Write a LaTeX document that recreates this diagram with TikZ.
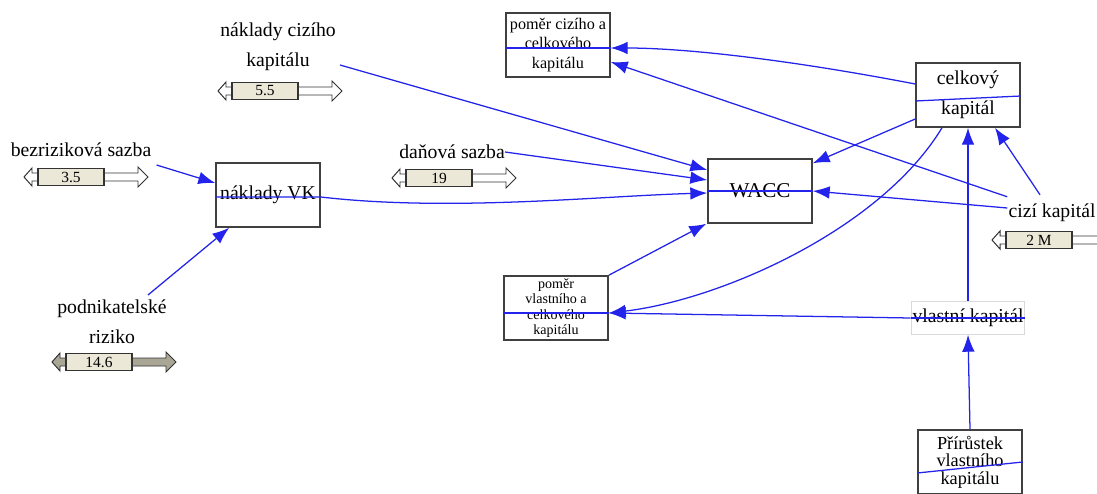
\documentclass[tikz,border=0pt]{standalone}
\usepackage{fontspec}
\setmainfont{Liberation Serif}
\usetikzlibrary{arrows.meta}

\definecolor{linkblue}{RGB}{35,35,235}
\definecolor{sliderfill}{RGB}{236,232,216}
\definecolor{knobgray}{RGB}{170,166,150}

\tikzset{
	box/.style = {draw = black!75, line width = 1.1pt, fill = white, minimum width = 2.6cm,
		minimum height = 1.6cm, align = center, inner sep = 1pt, font = \fontsize{14pt}{16pt}\selectfont},
	label/.style = {align = center, inner sep = 0pt, font = \fontsize{14pt}{21pt}\selectfont},
	conn/.style = {linkblue, line width = 0.9pt, ->},
	thru/.style = {linkblue, line width = 0.9pt},
	sliderline/.style = {draw = black!80, line width = 0.7pt},
	sliderbox/.style = {draw = black!80, line width = 0.9pt, fill = sliderfill, minimum width = 1.65cm,
		minimum height = 0.43cm, inner sep = 0pt, font = \fontsize{11pt}{11pt}\selectfont}
}

% slider: name, left edge of box, centre line, value, arrow fill
\newcommand{\slider}[5]{
	\draw [sliderline, fill = #5] (#2-14, #3) -- (#2-6, #3-9) -- (#2-6, #3-4) -- (#2, #3-4)
		-- (#2, #3+4) -- (#2-6, #3+4) -- (#2-6, #3+9) -- cycle;
	\draw [sliderline, fill = #5] (#2+66, #3-4) -- (#2+100, #3-4) -- (#2+100, #3-10) -- (#2+110, #3)
		-- (#2+100, #3+10) -- (#2+100, #3+4) -- (#2+66, #3+4) -- cycle;
	\node [sliderbox] (#1) at (#2+33, #3) {#4};
}

\begin{document}
\begin{tikzpicture}[> = {Latex[length = 12pt, width = 9pt]}, x = 0.025cm, y = -0.025cm]

	\clip (0, 0) rectangle (1097, 493);

	% Boxes

	\node [box, font = \fontsize{11.5pt}{14pt}\selectfont] (pcc) at (558, 45) {poměr cizího a\\celkového\\kapitálu};
	\node [box] (vk) at (268, 195) {náklady VK};
	\node [box, font = \fontsize{15pt}{16pt}\selectfont] (wacc) at (760, 191) {WACC};
	\node [box, font = \fontsize{14pt}{21pt}\selectfont] (ck) at (968, 95) {celkový\\kapitál};
	\node [box, font = \fontsize{10pt}{11pt}\selectfont] (pvc) at (556, 308) {poměr\\vlastního a\\celkového\\kapitálu};
	\node [box, draw = black!15, line width = 0.6pt, minimum width = 2.8cm, minimum height = 0.82cm]
		(vlk) at (968, 318) {vlastní kapitál};
	\node [box, font = \fontsize{13pt}{12.5pt}\selectfont] (prk) at (970, 462) {Přírůstek\\vlastního\\kapitálu};

	% Constants + sliders

	\node [label] (nkk) at (278, 47) {náklady cizího\\kapitálu};
	\node [label] (bez) at (81, 150) {bezriziková sazba};
	\node [label] (pod) at (112, 322) {podnikatelské\\riziko};
	\node [label] (dan) at (452, 152) {daňová sazba};
	\node [label] (cizi) at (1052, 213) {cizí kapitál};

	\slider{snkk}{232}{91}{5.5}{white}
	\slider{sbez}{38}{177}{3.5}{white}
	\slider{spod}{66}{362}{14.6}{knobgray}
	\slider{sdan}{406}{178}{19}{white}
	\slider{scizi}{1006}{240}{2 M}{white}

	% Links into WACC

	\draw [conn] ([shift = {(4, 18)}] nkk.east) -- ([shift = {(0, -21)}] wacc.west);
	\draw [conn] (dan.east) -- ([shift = {(0, -11)}] wacc.west);
	\draw [conn] ([shift = {(0, 2)}] vk.west) -- ([shift = {(0, 2)}] vk.east)
		.. controls (450, 212) and (600, 196) .. ([shift = {(0, 2)}] wacc.west);
	\draw [conn] (pvc.north east) -- ([shift = {(-1, 0)}] wacc.south west);
	\draw [conn] ([shift = {(0, 24)}] ck.west) -- ([shift = {(0, 5)}] wacc.north east);
	\draw [conn] ([shift = {(-1, -5)}] cizi.west) -- (wacc.east);
	\draw [thru] (wacc.east) -- (wacc.west);

	% Links into náklady VK

	\draw [conn] ([shift = {(5, 15)}] bez.east) -- ([shift = {(0, -12)}] vk.west);
	\draw [conn] ([shift = {(-19, -5)}] pod.north east) -- ([shift = {(14, 0)}] vk.south west);

	% Capital structure

	\draw [conn] ([shift = {(0, -11)}] ck.west) .. controls (780, 58) and (680, 48) .. ([shift = {(0, 3)}] pcc.east);
	\draw [thru] ([shift = {(0, 3)}] pcc.east) -- ([shift = {(0, 3)}] pcc.west);
	\draw [conn] ([shift = {(-1, -7)}] cizi.north west) -- ([shift = {(0, 17)}] pcc.east);
	\draw [conn] ([shift = {(-12, -9)}] cizi.north) -- ([shift = {(27, 0)}] ck.south);
	\draw [thru] ([shift = {(0, 6)}] ck.west) -- ([shift = {(0, 1)}] ck.east);
	\draw [conn] (vlk.north) -- (ck.south);
	\draw [conn] (prk.north) -- (vlk.south);
	\draw [thru] (vlk.west) -- (vlk.east);
	\draw [thru] ([shift = {(0, 11)}] prk.west) -- (prk.east);
	\draw [conn] (vlk.west) -- ([shift = {(0, 5)}] pvc.east);
	\draw [conn] ([shift = {(-26, 0)}] ck.south) .. controls (880, 230) and (720, 300) .. ([shift = {(0, 5)}] pvc.east);
	\draw [thru] ([shift = {(0, 5)}] pvc.east) -- ([shift = {(0, 5)}] pvc.west);

\end{tikzpicture}
\end{document}
